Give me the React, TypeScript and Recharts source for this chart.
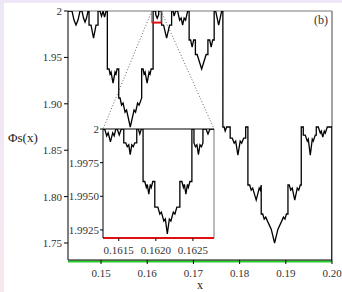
import React from 'react';
import { LineChart, Line, XAxis, YAxis, ReferenceLine, CartesianGrid } from 'recharts';

const FONT = '"Liberation Serif", "Times New Roman", serif';

const xTicks = [0.15, 0.16, 0.17, 0.18, 0.19, 0.2];
const yTicks = [1.75, 1.8, 1.85, 1.9, 1.95, 2];
const insetXTicks = [0.1615, 0.162, 0.1625];
const insetYTicks = [1.9925, 1.995, 1.9975, 2];

const mainDomainX: [number, number] = [0.142848, 0.2];
const mainDomainY: [number, number] = [1.7317, 2];
const insetDomainX: [number, number] = [0.161288, 0.162784];
const insetDomainY: [number, number] = [1.9919, 2];

const greenLevel = 1.7302;
const zoomBox = { x1: 0.16098, x2: 0.163004, y1: 1.9875, y2: 2 };
const connectorStart = [
  { x: 0.16098, y: 2 },
  { x: 0.163004, y: 2 },
];
const connectorEnd = [
  { x: 0.150433, y: 1.87274 },
  { x: 0.174491, y: 1.87274 },
];

const mainCurve: [number, number][] = [
  [0.142848, 2], [0.143715, 2], [0.144148, 1.99019], [0.144582, 1.98481], [0.145015, 1.99019],
  [0.145449, 2], [0.145882, 2], [0.146207, 1.99235], [0.146532, 1.98804], [0.146857, 1.99235],
  [0.147183, 2], [0.147399, 2], [0.147399, 1.98481], [0.147833, 1.98481], [0.148375, 1.9708],
  [0.148916, 1.98481], [0.14935, 1.98481], [0.14935, 2], [0.149783, 2], [0.150108, 1.9945],
  [0.150433, 2], [0.150759, 1.99343], [0.151084, 2], [0.151365, 2], [0.151365, 1.9375],
  [0.151734, 1.9375], [0.151951, 1.932], [0.152167, 1.93416], [0.152601, 1.9223], [0.153034, 1.93416],
  [0.153251, 1.932], [0.153468, 1.9375], [0.153836, 1.9375], [0.153836, 1.90625], [0.154118, 1.90625],
  [0.154443, 1.8986], [0.154768, 1.90075], [0.155202, 1.89105], [0.155527, 1.89321], [0.156329, 1.875],
  [0.157152, 1.89321], [0.157477, 1.89105], [0.157911, 1.90075], [0.158236, 1.8986], [0.158799, 1.90625],
  [0.158799, 1.9375], [0.159103, 1.9375], [0.159319, 1.932], [0.159536, 1.93416], [0.15997, 1.9223],
  [0.160403, 1.93416], [0.16062, 1.932], [0.160837, 1.9375], [0.16127, 1.9375], [0.16127, 2],
  [0.161833, 2], [0.161833, 1.99612], [0.162159, 1.99224], [0.162484, 1.99612], [0.162484, 2],
  [0.163112, 2], [0.163112, 1.98481], [0.163546, 1.98481], [0.164196, 1.9708], [0.164846, 1.98481],
  [0.165279, 1.98481], [0.165279, 2], [0.165605, 2], [0.165821, 1.9945], [0.166146, 2],
  [0.16658, 2], [0.167013, 1.99019], [0.167338, 1.99235], [0.167664, 1.98481], [0.167989, 1.99235],
  [0.168314, 1.99019], [0.168747, 2], [0.169072, 2], [0.169072, 1.96875], [0.169397, 1.96875],
  [0.169722, 1.9611], [0.170048, 1.96875], [0.170427, 1.96875], [0.170427, 1.953125], [0.170806, 1.953125],
  [0.171781, 1.9375], [0.172757, 1.953125], [0.173136, 1.953125], [0.173136, 1.96875], [0.173515, 1.96875],
  [0.17384, 1.9611], [0.174165, 1.96875], [0.17449, 1.96875], [0.17449, 2], [0.174816, 2],
  [0.175466, 1.98481], [0.176116, 2], [0.176376, 2], [0.176376, 1.875], [0.176658, 1.875],
  [0.176874, 1.87058], [0.177199, 1.875], [0.177958, 1.875], [0.177958, 1.86304], [0.178392, 1.86304],
  [0.178825, 1.85765], [0.17915, 1.8598], [0.179627, 1.84472], [0.180125, 1.8598], [0.180451, 1.85765],
  [0.180884, 1.86304], [0.181318, 1.86304], [0.181318, 1.875], [0.181794, 1.875], [0.181794, 1.8125],
  [0.182184, 1.8125], [0.18251, 1.807], [0.182835, 1.80916], [0.183593, 1.79622], [0.184243, 1.80916],
  [0.18446, 1.807], [0.184677, 1.8125], [0.184677, 1.78125], [0.185002, 1.78125], [0.185327, 1.77575],
  [0.185652, 1.7779], [0.186129, 1.77252], [0.186844, 1.76497], [0.18757, 1.75], [0.188296, 1.76497],
  [0.189011, 1.77252], [0.189488, 1.7779], [0.189813, 1.77575], [0.190138, 1.78125], [0.190464, 1.78125],
  [0.190464, 1.8125], [0.190745, 1.8125], [0.19107, 1.807], [0.191396, 1.80916], [0.191937, 1.79622],
  [0.192479, 1.80916], [0.192804, 1.807], [0.193129, 1.8125], [0.193346, 1.8125], [0.193346, 1.875],
  [0.19378, 1.875], [0.19378, 1.86627], [0.194213, 1.86627], [0.194647, 1.8598], [0.194863, 1.86196],
  [0.195297, 1.84472], [0.19573, 1.86196], [0.195947, 1.8598], [0.19638, 1.86627], [0.196597, 1.86627],
  [0.196597, 1.875], [0.197031, 1.875], [0.197464, 1.86842], [0.197681, 1.87058], [0.198006, 1.86411],
  [0.198331, 1.87058], [0.198548, 1.86842], [0.198981, 1.875], [0.199523, 1.875], [0.19998, 1.875],
  [0.19998, 1.7317],
];

const insetCurve: [number, number][] = [
  [0.161288, 2], [0.161311, 2], [0.161338, 1.99949], [0.161358, 1.99971], [0.161388, 1.99904],
  [0.161419, 1.99971], [0.161439, 1.99949], [0.16146, 2], [0.16148, 2], [0.161507, 1.99956],
  [0.161534, 2], [0.161568, 2], [0.161568, 1.99897], [0.161595, 1.99897], [0.161615, 1.99868],
  [0.161635, 1.99882], [0.161655, 1.99809], [0.161676, 1.99882], [0.161696, 1.99868], [0.161716, 1.99897],
  [0.161743, 1.99897], [0.161743, 2], [0.161764, 2], [0.161784, 1.99963], [0.161804, 2],
  [0.161828, 2], [0.161828, 1.9961], [0.161851, 1.9961], [0.161872, 1.99566], [0.161885, 1.99588],
  [0.161905, 1.99515], [0.161926, 1.99588], [0.161939, 1.99566], [0.161959, 1.9961], [0.161986, 1.9961],
  [0.161986, 1.99419], [0.162027, 1.99419], [0.162054, 1.99368], [0.162074, 1.99382], [0.162108, 1.99316],
  [0.162128, 1.99331], [0.162155, 1.99221], [0.162182, 1.99331], [0.162203, 1.99316], [0.162236, 1.99382],
  [0.162257, 1.99368], [0.162284, 1.99419], [0.162324, 1.99419], [0.162324, 1.9961], [0.162351, 1.9961],
  [0.162372, 1.99566], [0.162385, 1.99588], [0.162405, 1.99515], [0.162426, 1.99588], [0.162439, 1.99566],
  [0.162459, 1.9961], [0.162486, 1.9961], [0.162486, 2], [0.162514, 2], [0.162514, 1.99897],
  [0.162534, 1.99868], [0.162554, 1.99882], [0.162574, 1.99809], [0.162595, 1.99882], [0.162615, 1.99868],
  [0.162635, 1.99897], [0.162635, 2], [0.162676, 2], [0.162703, 1.99963], [0.16273, 2],
  [0.162784, 2],
];

const mainData = mainCurve.map(([x, y]) => ({ x, y }));
const insetData = insetCurve.map(([x, y]) => ({ x, y }));

const tickStyle = { fontSize: 11, fill: '#333', fontFamily: FONT };

const fmtMainY = (v: number) => (v === 2 ? '2' : v.toFixed(2));
const fmtInsetY = (v: number) => (v === 2 ? '2' : v.toFixed(4));

export default function App() {
  return (
    <div
      style={{
        position: 'fixed',
        left: 0,
        top: 0,
        width: 342,
        height: 292,
        background: 'linear-gradient(#ede7f7, #f8e7ef)',
        overflow: 'hidden',
      }}
    >
      <div style={{ position: 'absolute', left: 4, top: 3, width: 338, height: 289, background: '#fff' }} />
      <div style={{ position: 'absolute', left: 0, top: 0 }}>
        <LineChart width={342} height={292} data={mainData} margin={{ top: 11, right: 10, bottom: 0, left: 0 }}>
          <XAxis
            type="number"
            dataKey="x"
            domain={mainDomainX}
            allowDataOverflow
            ticks={xTicks}
            tickFormatter={(v: number) => v.toFixed(2)}
            tick={tickStyle}
            tickSize={4}
            tickMargin={5}
            axisLine={{ stroke: '#000' }}
            tickLine={{ stroke: '#000' }}
            height={32}
          />
          <YAxis
            type="number"
            domain={mainDomainY}
            allowDataOverflow
            ticks={yTicks}
            tickFormatter={fmtMainY}
            tick={tickStyle}
            tickSize={4}
            tickMargin={2}
            axisLine={{ stroke: '#000' }}
            tickLine={{ stroke: '#000' }}
            width={68}
          />
          <ReferenceLine y={2} stroke="#777" strokeWidth={1} />
          <ReferenceLine x={0.2} stroke="#666" strokeWidth={1.2} />
          <ReferenceLine y={greenLevel} stroke="#22d022" strokeWidth={2} ifOverflow="visible" />
          <ReferenceLine
            segment={[connectorStart[0], connectorEnd[0]]}
            stroke="#666"
            strokeDasharray="1 2"
            ifOverflow="visible"
          />
          <ReferenceLine
            segment={[connectorStart[1], connectorEnd[1]]}
            stroke="#666"
            strokeDasharray="1 2"
            ifOverflow="visible"
          />
          <Line
            type="linear"
            dataKey="y"
            stroke="#000"
            strokeWidth={1.3}
            dot={false}
            isAnimationActive={false}
          />
          <ReferenceLine
            segment={[{ x: zoomBox.x1, y: zoomBox.y2 }, { x: zoomBox.x1, y: zoomBox.y1 }]}
            stroke="#777"
          />
          <ReferenceLine
            segment={[{ x: zoomBox.x2, y: zoomBox.y2 }, { x: zoomBox.x2, y: zoomBox.y1 }]}
            stroke="#777"
          />
          <ReferenceLine
            segment={[{ x: zoomBox.x1, y: zoomBox.y1 }, { x: zoomBox.x2, y: zoomBox.y1 }]}
            stroke="#e01010"
            strokeWidth={2}
          />
        </LineChart>
      </div>

      <div style={{ position: 'absolute', left: 66, top: 120 }}>
        <LineChart width={154} height={140} data={insetData} margin={{ top: 9, right: 6, bottom: 0, left: 0 }}>
          <CartesianGrid fill="#fff" horizontal={false} vertical={false} />
          <XAxis
            type="number"
            dataKey="x"
            domain={insetDomainX}
            allowDataOverflow
            ticks={insetXTicks}
            tickFormatter={(v: number) => v.toFixed(4)}
            tick={tickStyle}
            tickSize={3}
            tickMargin={5}
            axisLine={{ stroke: '#e01010', strokeWidth: 2 }}
            tickLine={{ stroke: '#000' }}
            height={22}
          />
          <YAxis
            type="number"
            domain={insetDomainY}
            allowDataOverflow
            ticks={insetYTicks}
            tickFormatter={fmtInsetY}
            tick={tickStyle}
            tickSize={3}
            tickMargin={1}
            axisLine={{ stroke: '#000' }}
            tickLine={{ stroke: '#000' }}
            width={37}
          />
          <ReferenceLine y={2} stroke="#000" />
          <ReferenceLine x={insetDomainX[1]} stroke="#777" />
          <Line
            type="linear"
            dataKey="y"
            stroke="#000"
            strokeWidth={1.3}
            dot={false}
            isAnimationActive={false}
          />
        </LineChart>
      </div>

      <div style={{ position: 'absolute', left: 8, top: 130, fontFamily: FONT, fontSize: 13, color: '#222', lineHeight: '15px' }}>
        Φs(x)
      </div>
      <div style={{ position: 'absolute', left: 194, top: 279, width: 12, textAlign: 'center', fontFamily: FONT, fontSize: 12, color: '#222', lineHeight: '12px' }}>
        x
      </div>
      <div style={{ position: 'absolute', left: 314, top: 13, fontFamily: FONT, fontSize: 12, color: '#333', lineHeight: '14px' }}>
        (b)
      </div>
    </div>
  );
}
